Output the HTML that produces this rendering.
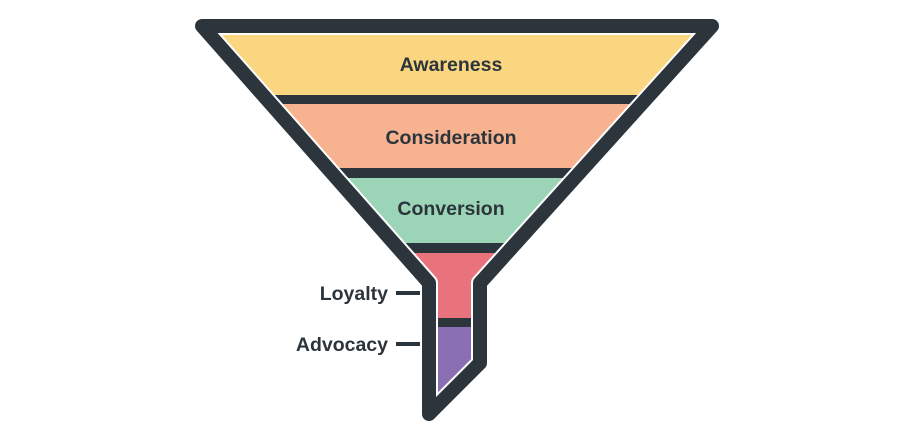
<!DOCTYPE html>
<html><head><meta charset="utf-8"><style>
html,body{margin:0;padding:0;background:#fff;}
svg{display:block}
text{font-family:"Liberation Sans",sans-serif;font-weight:bold;fill:#2b353b}
</style></head><body>
<svg width="908" height="440" viewBox="0 0 908 440" xmlns="http://www.w3.org/2000/svg">
<defs>
<clipPath id="c"><polygon points="202,26 712,26 480,283 480,363 429,414 429,283"/></clipPath>
</defs>
<g clip-path="url(#c)">
<rect x="0" y="0" width="908" height="95" fill="#f9d67f"/>
<rect x="0" y="95" width="908" height="9" fill="#2b353b"/>
<rect x="0" y="104" width="908" height="64" fill="#f7b390"/>
<rect x="0" y="168" width="908" height="10" fill="#2b353b"/>
<rect x="0" y="178" width="908" height="65" fill="#9bd4b7"/>
<rect x="0" y="243" width="908" height="10" fill="#2b353b"/>
<rect x="0" y="253" width="908" height="65" fill="#e8737c"/>
<rect x="0" y="318" width="908" height="9" fill="#2b353b"/>
<rect x="0" y="327" width="908" height="100" fill="#8a6fb5"/>
</g>
<polygon points="202,26 712,26 480,283 480,363 429,414 429,283" fill="none" stroke="#fff" stroke-width="18" stroke-linejoin="round"/>
<polygon points="202,26 712,26 480,283 480,363 429,414 429,283" fill="none" stroke="#2b353b" stroke-width="14" stroke-linejoin="round"/>
<text x="451" y="71" font-size="19.5" text-anchor="middle">Awareness</text>
<text x="451" y="144" font-size="19.5" text-anchor="middle">Consideration</text>
<text x="451" y="215" font-size="19.5" text-anchor="middle">Conversion</text>
<text x="388" y="300" font-size="19.5" text-anchor="end">Loyalty</text>
<text x="388" y="351" font-size="19.5" text-anchor="end">Advocacy</text>
<line x1="396" y1="293" x2="420" y2="293" stroke="#2b353b" stroke-width="4"/>
<line x1="396" y1="344" x2="420" y2="344" stroke="#2b353b" stroke-width="4"/>
</svg>
</body></html>
